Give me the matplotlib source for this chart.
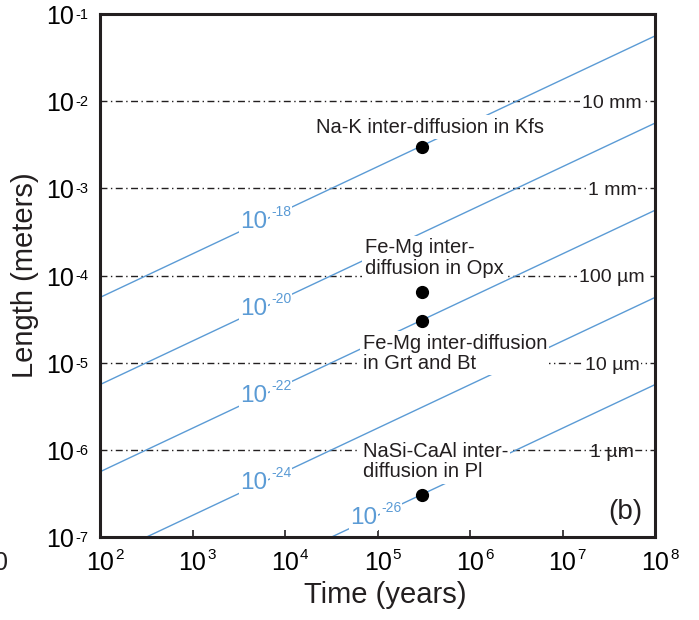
import numpy as np
import matplotlib
matplotlib.use('Agg')
import matplotlib.pyplot as plt

plt.rcParams['font.family'] = ['Liberation Sans', 'DejaVu Sans']

# diffusion lines: length (m) at 1e2 and 1e8 years
t_ends = [1e2, 1e8]
d_exps = ['-18', '-20', '-22', '-24', '-26']
len_start = [5.6e-5, 5.6e-6, 5.6e-7, 5.6e-8, 5.6e-9]
len_end = [5.6e-2, 5.6e-3, 5.6e-4, 5.6e-5, 5.6e-6]
# where each D label sits on its line
lab_t = [6.4e3, 6.4e3, 6.4e3, 6.4e3, 9.9e4]
lab_len = [4.5e-4, 4.5e-5, 4.5e-6, 4.5e-7, 1.77e-7]

# reference lengths (dash-dot)
ref_len = [1e-2, 1e-3, 1e-4, 1e-5, 1e-6]
ref_names = ['10 mm', '1 mm', '100 µm', '10 µm', '1 µm']

# examples
pt_t = [3e5, 3e5, 3e5, 3e5]
pt_len = [3e-3, 6.5e-5, 3e-5, 3e-7]
pt_names = ['Na-K inter-diffusion in Kfs',
            'Fe-Mg inter-\ndiffusion in Opx',
            'Fe-Mg inter-diffusion\nin Grt and Bt',
            'NaSi-CaAl inter-\ndiffusion in Pl']

x_exps = [2, 3, 4, 5, 6, 7, 8]
y_exps = [-7, -6, -5, -4, -3, -2, -1]

blue = '#5b9bd5'
dark = '#231f20'

fig = plt.figure(figsize=(6.99, 6.20), dpi=100)
ax = fig.add_axes([100/699, 83/620, 555/699, 523/620])
ax.set_xscale('log')
ax.set_yscale('log')
ax.set_xlim(1e2, 1e8)
ax.set_ylim(1e-7, 1e-1)

for s in ax.spines.values():
    s.set_linewidth(2.2)
    s.set_color(dark)

ax.set_xticks([10.0**e for e in x_exps])
ax.set_xticklabels([''] * len(x_exps))
ax.xaxis.set_minor_locator(matplotlib.ticker.NullLocator())
ax.yaxis.set_minor_locator(matplotlib.ticker.NullLocator())
ax.set_yticks([])
ax.tick_params(axis='x', direction='in', length=5, width=1.2, color=dark)


def pow_label(xy, coords, exp, dx, dy, size, esize, rise, gap=1, color='k', bbox=None):
    ax.annotate('10', xy=xy, xycoords=coords, xytext=(dx, dy), textcoords='offset pixels',
                ha='right', va='baseline', fontsize=size, color=color, bbox=bbox,
                annotation_clip=False, zorder=4)
    ax.annotate(exp, xy=xy, xycoords=coords, xytext=(dx + gap, dy + rise), textcoords='offset pixels',
                ha='left', va='baseline', fontsize=esize, color=color, bbox=bbox,
                annotation_clip=False, zorder=4)


# tick labels
for e in x_exps:
    pow_label((10.0**e, 0), ax.get_xaxis_transform(), str(e), 14, -33, 18, 11, 11)
for e in y_exps:
    pow_label((0, 10.0**e), ax.get_yaxis_transform(), str(e), -26, -10, 18, 10.5, 5)

# reference length lines
for v, name in zip(ref_len, ref_names):
    ax.axhline(v, color=dark, lw=1.0, linestyle=(0, (5, 2.5, 1, 2.5)), zorder=1)
    bb = None if name == '1 µm' else dict(boxstyle='square,pad=0.1', fc='white', ec='none')
    ax.annotate(name, xy=(0.9225, v), xycoords=ax.get_yaxis_transform(), xytext=(0, -7),
                textcoords='offset pixels', ha='center', va='baseline', fontsize=14,
                color=dark, bbox=bb, zorder=3)

# diffusion lines
for a, b in zip(len_start, len_end):
    ax.plot(t_ends, [a, b], color=blue, lw=1.0, zorder=2)

wbox = dict(boxstyle='square,pad=0.05', fc='white', ec='none')
for t, v, e in zip(lab_t, lab_len, d_exps):
    pow_label((t, v), 'data', e, 0, -9, 17.5, 10, 12, gap=4, color=blue, bbox=wbox)

# example points
ax.plot(pt_t, pt_len, 'o', color='black', ms=8.5, zorder=5)
offsets = [(8, 14), (-57, 18), (-59, -48), (-59, 18)]
aligns = ['center', 'left', 'left', 'left']
tbox = dict(boxstyle='square,pad=0.12', fc='white', ec='none')
for t, v, name, off, ha in zip(pt_t, pt_len, pt_names, offsets, aligns):
    ax.annotate(name, xy=(t, v), xytext=off, textcoords='offset pixels', ha=ha,
                va='baseline', fontsize=14.5, color=dark, linespacing=1.1,
                bbox=tbox, zorder=3)

ax.text(0.978, 0.048, '(b)', transform=ax.transAxes, ha='right', va='center',
        fontsize=20, color=dark)

fig.text(25/699, 1 - 275.5/620, 'Length (meters)', rotation=90, ha='center',
         va='center', fontsize=21, color=dark)
fig.text(385/699, 1 - 603/620, 'Time (years)', ha='center', va='baseline',
         fontsize=21, color=dark)
# piece of the neighbouring panel's tick label, cut by the edge as in the source
fig.text(8/699, 1 - 570/620, '0', ha='right', va='baseline', fontsize=18, color=dark)

fig.savefig('out.png', dpi=100)
